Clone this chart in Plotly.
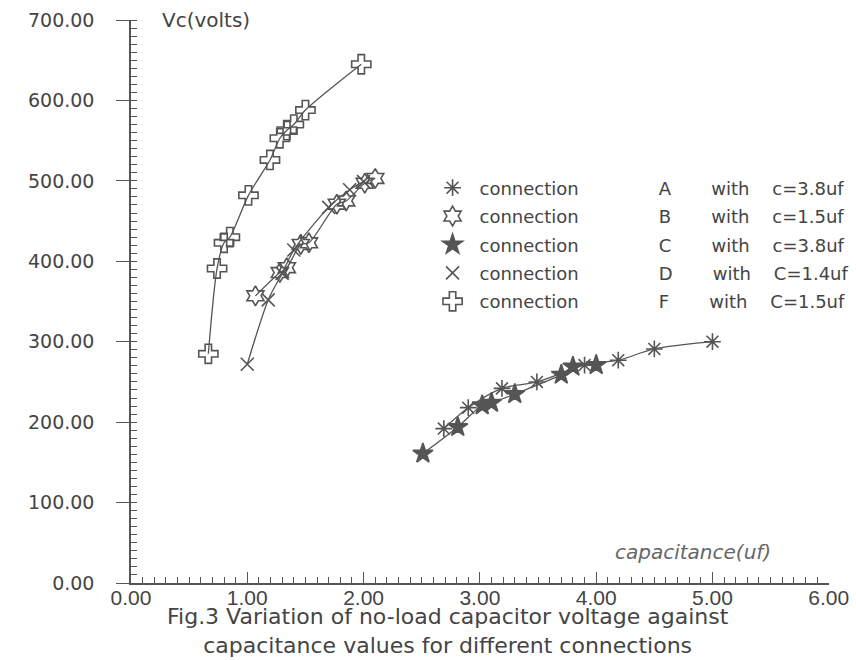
import plotly.graph_objects as go

# capacitance (uf) and no-load capacitor voltage Vc (volts) for each connection
cap_a = [2.69, 2.90, 3.19, 3.49, 3.90, 4.19, 4.50, 5.00]
vc_a = [192, 218, 242, 250, 271, 277, 291, 300]

cap_b = [1.07, 1.28, 1.34, 1.46, 1.53, 1.77, 1.85, 2.01, 2.10]
vc_b = [357, 386, 392, 421, 423, 471, 475, 497, 503]

cap_c = [2.51, 2.81, 3.02, 3.10, 3.30, 3.70, 3.80, 4.00]
vc_c = [161, 194, 221, 224, 235, 259, 269, 271]

cap_d = [1.00, 1.18, 1.30, 1.40, 1.70, 1.88, 2.00]
vc_d = [272, 352, 385, 414, 467, 489, 499]

cap_f = [0.665, 0.74, 0.80, 0.85, 1.01, 1.195, 1.28, 1.34, 1.40, 1.50, 1.98]
vc_f = [285, 391, 423, 430, 482, 526, 553, 563, 570, 588, 645]

NB = "\u00a0"


def entry(letter, value):
    # spaced-out legend label: connection  X  with  c=...
    return "connection" + NB * 14 + letter + NB * 7 + "with" + NB * 4 + value


series = [
    (entry("A", "c=3.8uf"), cap_a, vc_a, "asterisk-open", 14),
    (entry("B", "c=1.5uf"), cap_b, vc_b, "hexagram-open", 15),
    (entry("C", "c=3.8uf"), cap_c, vc_c, "star", 15),
    (entry("D", "C=1.4uf"), cap_d, vc_d, "x-thin-open", 13),
    (entry("F", "C=1.5uf"), cap_f, vc_f, "cross-open", 16),
]

INK = "#555555"
TEXT = "#444444"
WIDE = "DejaVu Sans"
NARROW = "Liberation Sans Narrow, Arial Narrow, Liberation Sans"

fig = go.Figure()
for i, (name, xs, ys, sym, size) in enumerate(series):
    marker = dict(symbol=sym, size=size, color=INK, line=dict(color=INK, width=1.6))
    # the curve itself
    fig.add_trace(go.Scatter(
        x=xs, y=ys, name=name, mode="lines+markers", showlegend=False,
        legendgroup=f"g{i}",
        line=dict(color=INK, width=1.3, shape="spline", smoothing=0.8),
        marker=marker,
    ))
    # symbol-only key entry
    fig.add_trace(go.Scatter(
        x=[None], y=[None], name=name, mode="markers", showlegend=True,
        legendgroup=f"g{i}", marker=marker,
    ))

fig.update_layout(
    width=856, height=660,
    margin=dict(l=131, r=27, t=20, b=77, autoexpand=False),
    paper_bgcolor="white", plot_bgcolor="white",
    font=dict(family=WIDE, color=TEXT),
    showlegend=True,
    legend=dict(
        x=0.422, y=0.7345, xanchor="left", yanchor="top",
        bgcolor="rgba(0,0,0,0)", font=dict(family=WIDE, size=18, color=TEXT),
        tracegroupgap=2, itemwidth=44,
    ),
    xaxis=dict(
        range=[0, 6.002], tickvals=[0, 1, 2, 3, 4, 5, 6], tickformat=".2f",
        showgrid=False, zeroline=False,
        showline=True, linecolor=INK, linewidth=1.5,
        ticks="inside", ticklen=11, tickwidth=1.3, tickcolor=INK,
        minor=dict(dtick=0.1, ticks="inside", ticklen=6, tickwidth=1.1, tickcolor=INK, showgrid=False),
        tickfont=dict(family=NARROW, size=21, color=TEXT),
        ticklabelstandoff=-5,
    ),
    yaxis=dict(
        range=[0, 700], dtick=100, tickformat=".2f",
        showgrid=False, zeroline=False,
        showline=True, linecolor=INK, linewidth=1.5,
        ticks="outside", ticklen=13, tickwidth=1.3, tickcolor=INK,
        minor=dict(dtick=10, ticks="inside", ticklen=6, tickwidth=1.1, tickcolor=INK, showgrid=False),
        tickfont=dict(family=WIDE, size=19, color=TEXT),
        ticklabelstandoff=18,
    ),
    annotations=[
        dict(text="Vc(volts)", xref="paper", yref="paper", x=0.041, y=1.0,
             xanchor="left", yanchor="middle", showarrow=False,
             font=dict(family=WIDE, size=20, color=TEXT)),
        dict(text="capacitance(uf)", xref="paper", yref="paper", x=0.69, y=0.055,
             xanchor="left", yanchor="middle", showarrow=False,
             font=dict(family=WIDE, size=20, color="#666666", style="italic")),
        dict(text="Fig.3 Variation of no-load capacitor voltage against<br>"
                  "capacitance values for different connections",
             xref="paper", yref="paper", x=0.454, y=-0.0845,
             xanchor="center", yanchor="middle", align="center", showarrow=False,
             font=dict(family=WIDE, size=22, color=TEXT)),
    ],
)

fig.write_html("out.html")
